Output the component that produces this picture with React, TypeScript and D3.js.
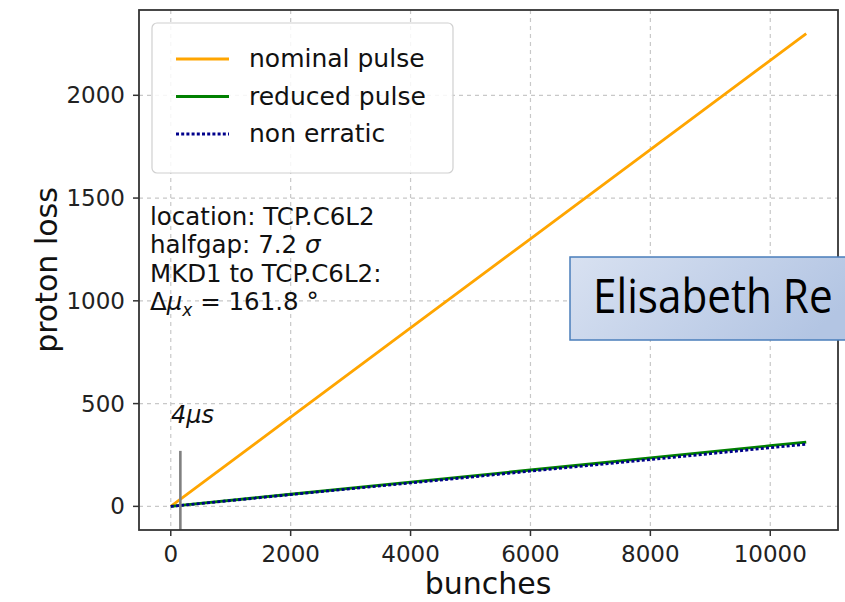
import React from "react";
import * as d3 from "d3";

const bunches = [0, 2000, 4000, 6000, 8000, 10000, 10600];
const nominalPulse = [0, 434, 868, 1302, 1736, 2170, 2300];
const reducedPulse = [0, 59, 118, 177, 236, 295, 313];
const nonErratic = [0, 57, 114, 171, 228, 285, 302];
const xTicks = [0, 2000, 4000, 6000, 8000, 10000];
const yTicks = [0, 500, 1000, 1500, 2000];
const markerBunch = 160;
const markerTop = 270;
const legendLabels = ["nominal pulse", "reduced pulse", "non erratic"];
const infoLines = ["location: TCP.C6L2", "halfgap: 7.2 ", "MKD1 to TCP.C6L2:"];

const W = 845;
const H = 602;
const L = 139, R = 838, T = 10, B = 530;
const FONT = "'DejaVu Sans', sans-serif";

export default function App() {
  const x = d3.scaleLinear().domain([-530, 11130]).range([L, R]);
  const y = d3.scaleLinear().domain([-115, 2415]).range([B, T]);
  const line = (vals: number[]) =>
    d3.line<number>().x((_, i) => x(bunches[i])).y((v) => y(v))(vals) as string;

  const series = [
    { vals: nominalPulse, color: "#ffa500", dash: undefined },
    { vals: reducedPulse, color: "#008000", dash: undefined },
    { vals: nonErratic, color: "#00008b", dash: "3,2.2" },
  ];

  return (
    <svg
      width={W}
      height={H}
      style={{ position: "absolute", left: 0, top: 0, background: "#fff", overflow: "hidden" }}
      fontFamily={FONT}
    >
      <defs>
        <linearGradient id="boxgrad" x1="0" x2="1" y1="0" y2="0.3">
          <stop offset="0" stopColor="#d8e1f1" />
          <stop offset="1" stopColor="#b3c5e3" />
        </linearGradient>
        <clipPath id="plotclip">
          <rect x={L} y={T} width={R - L} height={B - T} />
        </clipPath>
      </defs>
      {/* grid */}
      {xTicks.map((t) => (
        <line key={"gx" + t} x1={x(t)} x2={x(t)} y1={T} y2={B} stroke="#c8c8c8" strokeWidth={1.2} strokeDasharray="4,4" />
      ))}
      {yTicks.map((t) => (
        <line key={"gy" + t} x1={L} x2={R} y1={y(t)} y2={y(t)} stroke="#c8c8c8" strokeWidth={1.2} strokeDasharray="4,4" />
      ))}
      {/* series */}
      <g clipPath="url(#plotclip)">
        {series.map((s, i) => (
          <path key={i} d={line(s.vals)} fill="none" stroke={s.color} strokeWidth={2.8} strokeDasharray={s.dash} />
        ))}
        <line x1={x(markerBunch)} x2={x(markerBunch)} y1={B} y2={y(markerTop)} stroke="#808080" strokeWidth={2.6} />
      </g>
      {/* 4 us */}
      <text x={171} y={423} fontSize={24} fontStyle="italic" fill="#111">4μs</text>
      {/* spines */}
      <rect x={L} y={T} width={R - L} height={B - T} fill="none" stroke="#333" strokeWidth={1.8} />
      {/* ticks */}
      {xTicks.map((t) => (
        <g key={"tx" + t}>
          <line x1={x(t)} x2={x(t)} y1={B} y2={B + 6} stroke="#333" strokeWidth={1.5} />
          <text x={x(t)} y={562} textAnchor="middle" fontSize={23} fill="#222">{t}</text>
        </g>
      ))}
      {yTicks.map((t) => (
        <g key={"ty" + t}>
          <line x1={L - 6} x2={L} y1={y(t)} y2={y(t)} stroke="#333" strokeWidth={1.5} />
          <text x={125} y={y(t) + 8} textAnchor="end" fontSize={23} fill="#222">{t}</text>
        </g>
      ))}
      {/* axis labels */}
      <text x={488} y={594} textAnchor="middle" fontSize={30} fill="#111">bunches</text>
      <text transform="translate(57,270) rotate(-90)" textAnchor="middle" fontSize={30} fill="#111">proton loss</text>
      {/* legend */}
      <rect x={152} y={23} width={301} height={150} rx={5} fill="#fff" fillOpacity={0.85} stroke="#d0d0d0" strokeWidth={1.2} />
      {legendLabels.map((lab, i) => {
        const ly = 59 + i * 37.5;
        return (
          <g key={lab}>
            <line x1={176} x2={229} y1={ly} y2={ly} stroke={series[i].color} strokeWidth={2.8} strokeDasharray={series[i].dash} />
            <text x={249} y={ly + 8} fontSize={25} fill="#111">{lab}</text>
          </g>
        );
      })}
      {/* info text */}
      <g fontSize={24.5} fill="#111">
        <text x={150} y={225}>{infoLines[0]}</text>
        <text x={150} y={253}>
          {infoLines[1]}
          <tspan fontStyle="italic">σ</tspan>
        </text>
        <text x={150} y={282}>{infoLines[2]}</text>
        <text x={150} y={310}>
          Δ<tspan fontStyle="italic">μ</tspan>
          <tspan fontStyle="italic" fontSize={17} dy={6}>x</tspan>
          <tspan dy={-6}> = 161.8 °</tspan>
        </text>
      </g>
      {/* overlay box */}
      <rect x={570} y={257} width={300} height={83} fill="url(#boxgrad)" stroke="#4a7ebb" strokeWidth={1.5} />
      <text transform="translate(593,313) scale(0.88,1)" fontSize={48} fontFamily="'Open Sans', sans-serif" fill="#000">Elisabeth Re</text>
    </svg>
  );
}
